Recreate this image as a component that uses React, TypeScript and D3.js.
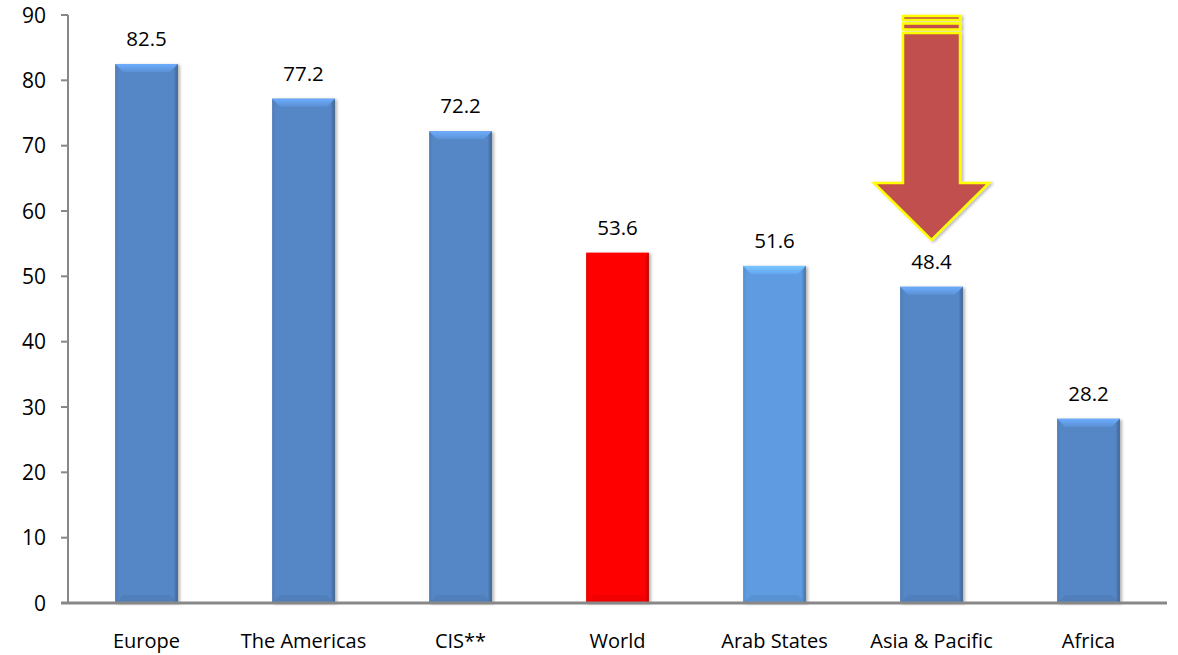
import React from "react";
import * as d3 from "d3";

const categories = ["Europe", "The Americas", "CIS**", "World", "Arab States", "Asia & Pacific", "Africa"];
const values = [82.5, 77.2, 72.2, 53.6, 51.6, 48.4, 28.2];
const barColors = ["#5587C6", "#5587C6", "#5587C6", "#FF0000", "#5E9BE0", "#5587C6", "#5587C6"];
const yTicks = [0, 10, 20, 30, 40, 50, 60, 70, 80, 90];

const W = 1178;
const H = 655;
const left = 68;
const right = 1167;
const top = 15;
const bottom = 603;
const FONT = "'Open Sans', 'Noto Sans', sans-serif";

function shade(c: string, k: number) {
  const col = d3.color(c)!;
  return k > 0 ? col.brighter(k).formatHex() : col.darker(-k).formatHex();
}

export default function App() {
  const x = d3.scaleBand<string>().domain(categories).range([left, right]).paddingInner(0.6).paddingOuter(0.3);
  const y = d3.scaleLinear().domain([0, 90]).range([bottom, top]);
  const bw = x.bandwidth();

  // arrow annotation above "Asia & Pacific"
  const ac = (x("Asia & Pacific") as number) + bw / 2;
  const shaftHalf = 28.5;
  const headHalf = 57.5;
  const tipY = 240;
  const headY = 183;
  const shaftTop = 33;
  const arrowPath = `M${ac - shaftHalf},${shaftTop} L${ac + shaftHalf},${shaftTop} L${ac + shaftHalf},${headY} L${ac + headHalf},${headY} L${ac},${tipY} L${ac - headHalf},${headY} L${ac - shaftHalf},${headY} Z`;

  return (
    <svg width={W} height={H} style={{ position: "absolute", left: 0, top: 0, background: "#fff" }} fontFamily={FONT}>
      <defs>
        <filter id="sh" x="-20%" y="-20%" width="140%" height="140%">
          <feDropShadow dx="2" dy="1" stdDeviation="1.6" floodColor="#000" floodOpacity="0.3" />
        </filter>
        {barColors.map((c, i) => (
          <linearGradient key={i} id={`g${i}`} x1="0" x2="1" y1="0" y2="0">
            <stop offset="0" stopColor={shade(c, -0.25)} />
            <stop offset="0.06" stopColor={c} />
            <stop offset="0.93" stopColor={c} />
            <stop offset="1" stopColor={shade(c, -0.9)} />
          </linearGradient>
        ))}
        {barColors.map((c, i) => (
          <linearGradient key={`t${i}`} id={`t${i}`} x1="0" x2="0" y1="0" y2="1">
            <stop offset="0" stopColor={shade(c, 0.7)} />
            <stop offset="1" stopColor={shade(c, 0.2)} />
          </linearGradient>
        ))}
      </defs>

      {/* y axis */}
      <line x1={left} x2={left} y1={top} y2={bottom} stroke="#888" strokeWidth={2} />
      {yTicks.map((t) => (
        <g key={t}>
          <line x1={left - 7} x2={left} y1={y(t)} y2={y(t)} stroke="#888" strokeWidth={2} />
          <text x={46} y={y(t)} dy="0.36em" textAnchor="end" fontSize={21} fill="#000">
            {t}
          </text>
        </g>
      ))}

      {/* bars */}
      {values.map((v, i) => {
        const bx = x(categories[i]) as number;
        const by = y(v);
        const h = bottom - by;
        const c = barColors[i];
        const bev = 8;
        return (
          <g key={categories[i]}>
            <rect x={bx} y={by} width={bw} height={h} fill={`url(#g${i})`} filter="url(#sh)" />
            <path
              d={`M${bx},${by} L${bx + bw},${by} L${bx + bw - bev},${by + bev} L${bx + bev},${by + bev} Z`}
              fill={`url(#t${i})`}
            />
            <path
              d={`M${bx},${bottom} L${bx + bw},${bottom} L${bx + bw - bev},${bottom - bev} L${bx + bev},${bottom - bev} Z`}
              fill={shade(c, -0.35)}
              opacity={0.5}
            />
            <text x={bx + bw / 2} y={by - 18} textAnchor="middle" fontSize={20.5} fill="#000">
              {v.toFixed(1)}
            </text>
            <text x={bx + bw / 2} y={648} textAnchor="middle" fontSize={20} fill="#000">
              {categories[i]}
            </text>
          </g>
        );
      })}

      {/* x axis */}
      <line x1={left - 7} x2={right} y1={bottom} y2={bottom} stroke="#888" strokeWidth={3} />

      {/* arrow annotation */}
      <g filter="url(#sh)">
        <rect x={ac - shaftHalf} y={16} width={shaftHalf * 2} height={4} fill="#C0504D" stroke="#FFFF00" strokeWidth={2.5} />
        <rect x={ac - shaftHalf} y={23.5} width={shaftHalf * 2} height={6} fill="#C0504D" stroke="#FFFF00" strokeWidth={2.5} />
        <path d={arrowPath} fill="#C0504D" stroke="#FFFF00" strokeWidth={2.5} strokeLinejoin="miter" />
      </g>
    </svg>
  );
}
